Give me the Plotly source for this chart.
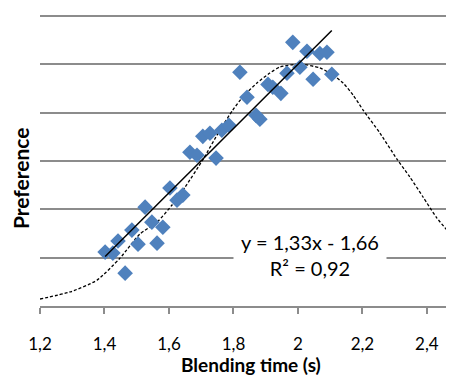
import plotly.graph_objects as go

# Observed data (blending time in s, preference)
blend_time = [1.402, 1.426, 1.442, 1.464, 1.485, 1.504, 1.526, 1.547, 1.563, 1.581,
              1.603, 1.625, 1.643, 1.665, 1.687, 1.705, 1.727, 1.746, 1.764, 1.786,
              1.820, 1.842, 1.870, 1.882, 1.907, 1.922, 1.947, 1.966, 1.984, 2.006,
              2.028, 2.047, 2.068, 2.090, 2.105]
preference = [0.223, 0.219, 0.269, 0.136, 0.314, 0.256, 0.409, 0.347, 0.260, 0.326,
              0.488, 0.438, 0.459, 0.636, 0.624, 0.702, 0.715, 0.612, 0.727, 0.748,
              0.967, 0.864, 0.789, 0.773, 0.917, 0.905, 0.880, 0.963, 1.091, 0.988,
              1.054, 0.938, 1.045, 1.050, 0.959]

# Model curve (dashed)
curve_x = [1.200, 1.293, 1.377, 1.448, 1.510, 1.563, 1.609, 1.650, 1.705, 1.758,
           1.798, 1.829, 1.873, 1.913, 1.944, 2.006, 2.068, 2.109, 2.140, 2.171,
           2.202, 2.254, 2.307, 2.347, 2.388, 2.431, 2.484]
curve_y = [0.029, 0.058, 0.107, 0.198, 0.298, 0.347, 0.417, 0.492, 0.605, 0.728,
           0.811, 0.865, 0.923, 0.964, 0.989, 1.001, 0.985, 0.956, 0.923, 0.873,
           0.811, 0.716, 0.608, 0.534, 0.451, 0.364, 0.281]

# Linear trend line
slope = 1.33
intercept = -1.66
r_squared = 0.92
trend_x = [min(blend_time), max(blend_time)]
trend_y = [slope * x + intercept for x in trend_x]

x_ticks = [1.2, 1.4, 1.6, 1.8, 2.0, 2.2, 2.4]

FONT = "Lato, 'Open Sans', sans-serif"
GRID = "#8c8c8c"

fig = go.Figure()
fig.add_trace(go.Scatter(
    x=curve_x, y=curve_y, mode="lines", line_shape="spline",
    line=dict(color="black", width=1.3, dash="3px,2px", smoothing=0.6),
    hoverinfo="skip"))
fig.add_trace(go.Scatter(
    x=blend_time, y=preference, mode="markers",
    marker=dict(symbol="diamond", size=12, color="#4f81bd", line=dict(width=0))))
fig.add_trace(go.Scatter(
    x=trend_x, y=trend_y, mode="lines",
    line=dict(color="black", width=1.5)))

fig.add_annotation(
    x=2.037, y=0.21, xref="x", yref="y",
    text=f"y = {slope:.2f}x - {abs(intercept):.2f}<br>R² = {r_squared:.2f}".replace(".", ","),
    showarrow=False, bgcolor="white", borderpad=7,
    font=dict(family=FONT, size=20, color="black"), align="center")

fig.add_annotation(
    x=0, y=0.438, xref="paper", yref="paper", xanchor="center", yanchor="middle",
    xshift=-20, text="<b>Preference</b>", textangle=-90, showarrow=False,
    font=dict(family=FONT, size=21, color="black"))

fig.add_annotation(
    x=0.51, y=0, xref="paper", yref="paper", xanchor="center", yanchor="middle",
    yshift=-58, text="<b>Blending time (s)</b>", showarrow=False,
    font=dict(family=FONT, size=19, color="black"))

fig.update_layout(
    width=446, height=368,
    margin=dict(l=32, r=0, t=6, b=70),
    paper_bgcolor="white", plot_bgcolor="white",
    showlegend=False, separators=", ",
    font=dict(family=FONT, color="black"),
    xaxis=dict(
        range=[1.2, 2.484], tickvals=x_ticks,
        ticktext=[f"{v:g}".replace(".", ",") for v in x_ticks],
        showgrid=False, zeroline=False,
        showline=True, linecolor=GRID, linewidth=1.5,
        ticks="outside", ticklen=6, tickcolor=GRID, tickwidth=1.5,
        ticklabelstandoff=16,
        tickfont=dict(family=FONT, size=17, color="black")),
    yaxis=dict(
        range=[0, 1.2083], dtick=0.2, tick0=0, showticklabels=False,
        showgrid=True, gridcolor=GRID, gridwidth=1.5,
        zeroline=False, showline=False, ticks=""),
)

fig.write_html("out.html")
